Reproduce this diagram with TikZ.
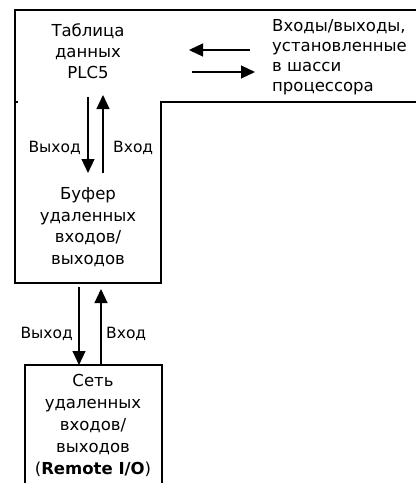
\documentclass[tikz,border=0pt]{standalone}
\usepackage{fontspec}
\setmainfont{DejaVu Sans}
\usetikzlibrary{arrows.meta}
\tikzset{
  x=1pt, y=-1pt,
  frame/.style={line width=1.2pt, draw=black},
  flow/.style={line width=1.1pt, -{Triangle[length=14pt,width=13pt]}},
  txt/.style={font=\fontsize{16.5}{21.5}\selectfont, inner sep=0pt, align=center},
  lbl/.style={font=\fontsize{15.5}{18}\selectfont, inner sep=0pt}
}
\begin{document}
\begin{tikzpicture}
\useasboundingbox (0,0) rectangle (416,483);
% outline
\draw[frame] (416,10) -- (15,10) -- (15,283) -- (161,283) -- (161,102) -- (416,102);
\draw[frame] (15,102) -- (18,102);
\draw[frame] (25,490) -- (25,365) -- (162,365) -- (162,490);
% texts
\node[txt, anchor=north, font=\fontsize{16.5}{21}\selectfont] (plc) at (88,23.5) {Таблица\\данных\\PLC5};
\node[txt, anchor=north west, align=left, font=\fontsize{16.5}{20}\selectfont] (chassis) at (272,19.5) {Входы/выходы,\\установленные\\в шасси\\процессора};
\node[txt, anchor=north] (buf) at (88,187.5) {Буфер\\удаленных\\входов/\\выходов};
\node[txt, anchor=north, font=\fontsize{16.5}{22}\selectfont] (net) at (93,374.5) {Сеть\\удаленных\\входов/\\выходов\\(\textbf{Remote I/O})};
% coordinates for arrows
\coordinate (a1s) at (88,97);  \coordinate (a1e) at (88,173);
\coordinate (a2s) at (103,173); \coordinate (a2e) at (103,95);
\coordinate (a3s) at (79,287); \coordinate (a3e) at (79,365);
\coordinate (a4s) at (101,365); \coordinate (a4e) at (101,289);
\coordinate (h1s) at (250,50); \coordinate (h1e) at (189,50);
\coordinate (h2s) at (192,72); \coordinate (h2e) at (255,72);
\draw[flow] (a1s) -- (a1e);
\draw[flow] (a2s) -- (a2e);
\draw[flow] (a3s) -- (a3e);
\draw[flow] (a4s) -- (a4e);
\draw[flow] (h1s) -- (h1e);
\draw[flow] (h2s) -- (h2e);
% labels
\node[lbl, anchor=base east] (out1) at (81,152) {Выход};
\node[lbl, anchor=base west] (in1) at (113,152) {Вход};
\node[lbl, anchor=base east] (out2) at (73,338) {Выход};
\node[lbl, anchor=base west] (in2) at (106,338) {Вход};
\end{tikzpicture}
\end{document}
